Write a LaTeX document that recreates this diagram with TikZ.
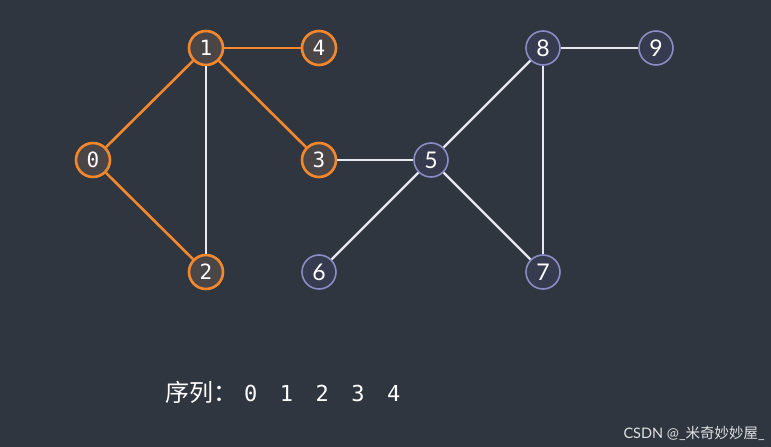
\documentclass[tikz,border=0pt]{standalone}
\usepackage{fontspec}
\setmonofont{DejaVu Sans Mono}
\setsansfont{Lato}
\newfontfamily\cjk{Noto Sans CJK SC}
\usetikzlibrary{positioning}
\definecolor{bgSlate}{HTML}{2F3640}
\definecolor{visitOrange}{HTML}{F5882C}
\definecolor{visitFill}{HTML}{4A4547}
\definecolor{idlePurple}{HTML}{8A8CC4}
\definecolor{idleFill}{HTML}{363B50}
\definecolor{edgeWhite}{HTML}{E6E8EE}
\newcommand{\seqgap}{\hspace{22.5pt}}

\begin{document}
\begin{tikzpicture}[x=1pt, y=-1pt,
  vert/.style={circle, minimum size=34pt, inner sep=0pt, text=white},
  seen/.style={vert, draw=visitOrange, fill=visitFill, line width=2.6pt, font=\ttfamily\fontsize{21}{21}\selectfont},
  idle/.style={vert, draw=idlePurple, fill=idleFill, line width=1.6pt, font=\sffamily\fontsize{23}{23}\selectfont},
  tree/.style={visitOrange, line width=2.6pt},
  plain/.style={edgeWhite, line width=2.2pt}
]
\fill[bgSlate] (0,0) rectangle (771,447);
\useasboundingbox (0,0) rectangle (771,447);
% vertices
\node[seen] (v0) at (93,160) {0};
\node[seen] (v1) at (206,48) {1};
\node[seen] (v2) at (206,272) {2};
\node[seen] (v3) at (319,160) {3};
\node[seen] (v4) at (319,48) {4};
\node[idle] (v5) at (431,160) {5};
\node[idle] (v6) at (319,272) {6};
\node[idle] (v7) at (543,272) {7};
\node[idle] (v8) at (543,48) {8};
\node[idle] (v9) at (656,48) {9};
% edges
\draw[plain] (v1) -- (v2);
\draw[plain] (v3) -- (v5);
\draw[plain] (v5) -- (v6);
\draw[plain] (v5) -- (v7);
\draw[plain] (v5) -- (v8);
\draw[plain] (v8) -- (v7);
\draw[plain] (v8) -- (v9);
\draw[tree] (v1) -- (v0);
\draw[tree] (v0) -- (v2);
\draw[tree] (v1) -- (v3);
\draw[tree] (v1) -- (v4);
% order
\node[anchor=base west, text=white, inner sep=0pt] (order) at (165,401)
  {{\cjk\fontsize{24}{24}\selectfont 序列：}\hspace{7pt}{\ttfamily\fontsize{22}{22}\selectfont 0\seqgap1\seqgap2\seqgap3\seqgap4}};
\node[anchor=base east, text=white!85!bgSlate, inner sep=0pt, font=\sffamily\fontsize{14.5}{14.5}\selectfont] (mark) at (765,438)
  {CSDN @\_{\cjk 米奇妙妙屋}\_};
\end{tikzpicture}
\end{document}
